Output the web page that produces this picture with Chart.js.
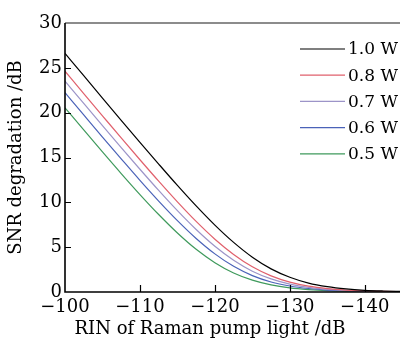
<!DOCTYPE html>
<html>
<head>
<meta charset="utf-8">
<script src="https://cdn.jsdelivr.net/npm/chart.js@4.4.1/dist/chart.umd.min.js"></script>
<style>
  html, body { margin: 0; padding: 0; background: #fff; }
  #wrap { width: 400px; height: 339px; }
</style>
</head>
<body>
<div id="wrap"><canvas id="snrChart"></canvas></div>
<script>
// RIN of Raman pump light (dB)
const rin = [-100, -102.5, -105, -107.5, -110, -112.5, -115, -117.5, -120, -122.5,
             -125, -127.5, -130, -132.5, -135, -137.5, -140, -142.5, -145];

// SNR degradation (dB) for each pump power
const snr10 = [26.61, 24.12, 21.63, 19.15, 16.69, 14.27, 11.89, 9.60, 7.46, 5.53,
               3.88, 2.58, 1.64, 0.99, 0.59, 0.34, 0.19, 0.11, 0.06];
const snr08 = [24.62, 22.13, 19.65, 17.18, 14.75, 12.36, 10.05, 7.87, 5.89, 4.19,
               2.81, 1.80, 1.10, 0.65, 0.38, 0.22, 0.12, 0.07, 0.04];
const snr07 = [23.52, 21.03, 18.56, 16.11, 13.69, 11.33, 9.07, 6.97, 5.10, 3.54,
               2.32, 1.46, 0.88, 0.51, 0.30, 0.17, 0.10, 0.05, 0.03];
const snr06 = [22.23, 19.75, 17.28, 14.85, 12.45, 10.14, 7.96, 5.97, 4.25, 2.86,
               1.83, 1.12, 0.67, 0.39, 0.22, 0.13, 0.07, 0.04, 0.02];
const snr05 = [20.54, 18.07, 15.62, 13.21, 10.87, 8.64, 6.58, 4.76, 3.27, 2.12,
               1.32, 0.79, 0.46, 0.27, 0.15, 0.09, 0.05, 0.03, 0.02];

const seriesLabels = ['1.0 W', '0.8 W', '0.7 W', '0.6 W', '0.5 W'];
const seriesColors = ['#000000', '#e0606c', '#9c94c8', '#4a62b8', '#3f9a5c'];
const xTicks = [-100, -110, -120, -130, -140];
const yTicks = [0, 5, 10, 15, 20, 25, 30];
const xTitle = 'RIN of Raman pump light /dB';

const serif = "'DejaVu Serif', serif";

function toPoints(vals) {
    return rin.map((r, i) => ({ x: r, y: vals[i] }));
}

// frame, inward tick marks, x title and the legend
const framePlugin = {
    id: 'framePlugin',
    afterDatasetsDraw(chart) {
        const { ctx, chartArea: a, scales: { x, y } } = chart;
        ctx.save();
        ctx.lineCap = 'butt';

        // top frame line
        ctx.strokeStyle = '#666';
        ctx.lineWidth = 1.5;
        ctx.beginPath();
        ctx.moveTo(a.left, a.top);
        ctx.lineTo(a.right, a.top);
        ctx.stroke();

        // axes
        ctx.strokeStyle = '#000';
        ctx.lineWidth = 1.6;
        ctx.beginPath();
        ctx.moveTo(a.left, a.top);
        ctx.lineTo(a.left, a.bottom);
        ctx.lineTo(a.right, a.bottom);
        ctx.stroke();

        // inward ticks
        ctx.lineWidth = 1.2;
        ctx.beginPath();
        yTicks.forEach(v => {
            if (v <= 0 || v >= 30) return;
            const py = Math.round(y.getPixelForValue(v)) + 0.5;
            ctx.moveTo(a.left, py);
            ctx.lineTo(a.left + 6, py);
        });
        xTicks.forEach(v => {
            if (v === -100) return;
            const px = Math.round(x.getPixelForValue(v)) + 0.5;
            ctx.moveTo(px, a.bottom);
            ctx.lineTo(px, a.bottom - 7);
        });
        ctx.stroke();

        // x axis title (sits a bit left of centre in the original)
        ctx.fillStyle = '#000';
        ctx.font = '18px ' + serif;
        ctx.textAlign = 'center';
        ctx.textBaseline = 'alphabetic';
        ctx.fillText(xTitle, 210, 334);

        // legend
        ctx.font = '17px ' + serif;
        ctx.textBaseline = 'middle';
        ctx.textAlign = 'left';
        chart.data.datasets.forEach((ds, i) => {
            const ly = 49 + i * 26.2;
            ctx.strokeStyle = ds.borderColor;
            ctx.lineWidth = 1.2;
            ctx.beginPath();
            ctx.moveTo(300, ly);
            ctx.lineTo(345, ly);
            ctx.stroke();
            ctx.fillStyle = '#000';
            ctx.fillText(ds.label, 348, ly + 1);
        });
        ctx.restore();
    }
};

const ctx = document.getElementById('snrChart').getContext('2d');
const snrChart = new Chart(ctx, {
    type: 'line',
    data: {
        datasets: [snr10, snr08, snr07, snr06, snr05].map((vals, i) => ({
            label: seriesLabels[i],
            data: toPoints(vals),
            borderColor: seriesColors[i],
            borderWidth: 1.2,
            pointRadius: 0,
            cubicInterpolationMode: 'monotone',
            fill: false
        }))
    },
    options: {
        responsive: true,
        maintainAspectRatio: false,
        animation: false,
        devicePixelRatio: 1,
        layout: { padding: { top: 23, right: 0, left: 0, bottom: 0 } },
        plugins: {
            legend: { display: false },
            tooltip: { enabled: false }
        },
        scales: {
            x: {
                type: 'linear',
                reverse: true,
                min: -144.7,
                max: -100,
                afterBuildTicks: s => { s.ticks = xTicks.map(v => ({ value: v })); },
                afterFit: s => { s.height = 47; },
                grid: { display: false, drawTicks: false },
                border: { display: false },
                ticks: {
                    color: '#000',
                    padding: 5,
                    maxRotation: 0,
                    font: { family: serif, size: 18 },
                    callback: v => (v < 0 ? '\u2212' + Math.abs(v) : String(v))
                },
                title: { display: false }
            },
            y: {
                min: 0,
                max: 30,
                afterBuildTicks: s => { s.ticks = yTicks.map(v => ({ value: v })); },
                afterFit: s => { s.width = 65; },
                grid: { display: false, drawTicks: false },
                border: { display: false },
                ticks: {
                    color: '#000',
                    padding: 3,
                    font: { family: serif, size: 18 }
                },
                title: {
                    display: true,
                    text: 'SNR degradation /dB',
                    color: '#000',
                    padding: { top: 6, bottom: 0 },
                    font: { family: serif, size: 18 }
                }
            }
        }
    },
    plugins: [framePlugin]
});
</script>
</body>
</html>
